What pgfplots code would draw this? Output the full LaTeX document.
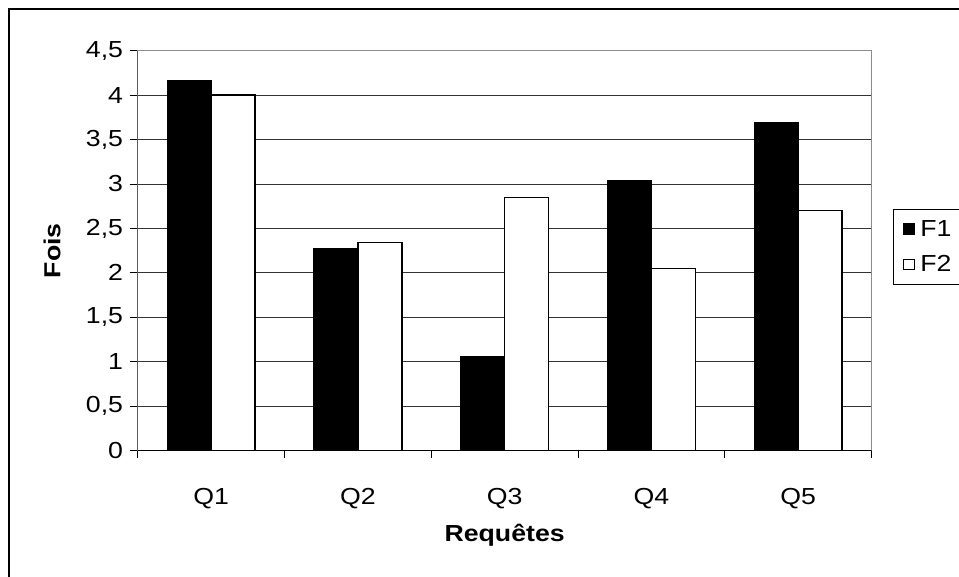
\documentclass[border=0pt]{standalone}
\usepackage{pgfplots}
\pgfplotsset{compat=1.18}
\usepackage{fontspec}
\setmainfont{Liberation Sans}[FakeStretch=1.15]
\newcommand{\chartfont}{\fontsize{17.4}{20}\selectfont}

% Durations per query for the two formulations
\pgfplotstableread{
x  f1    f2
0  4.17  4.00
1  2.28  2.34
2  1.06  2.85
3  3.045 2.05
4  3.69  2.70
}\fois

\begin{document}
\begin{tikzpicture}[x=0.75pt,y=0.75pt]
\useasboundingbox (0,0) rectangle (959,576);
\fill[white] (0,0) rectangle (959,576);
% outer chart frame
\draw[line width=1.5pt] (9,-5) -- (9,567) -- (975,567);
\begin{axis}[
  at={(103.3pt,94pt)}, anchor=south west,
  scale only axis, width=550.35pt, height=300pt,
  ybar=0pt, bar width=33pt,
  xmin=-0.5, xmax=4.5, ymin=0, ymax=4.5,
  xtick={0,1,2,3,4}, xticklabels={Q1,Q2,Q3,Q4,Q5},
  minor xtick={-0.5,0.5,1.5,2.5,3.5,4.5},
  ytick={0,0.5,1,1.5,2,2.5,3,3.5,4,4.5},
  tick align=outside, tick pos=left,
  major tick length=6pt, minor tick length=5.25pt,
  major x tick style={draw=none},
  minor x tick style={black, line width=0.75pt},
  ytick style={black, line width=0.75pt},
  ymajorgrids, major grid style={black!80, line width=0.75pt},
  axis line style={draw=black!45, line width=0.75pt},
  /pgf/number format/.cd, use comma, assume math mode=true,
  /pgfplots/.cd,
  every tick label/.append style={font=\chartfont, text=black},
  xticklabel style={anchor=base, yshift=-34pt},
  yticklabel style={xshift=-1.5pt},
  ylabel={Fois}, xlabel={Requêtes},
  ylabel style={at={(axis description cs:-0.1168,0.5)}, anchor=center, font=\chartfont\bfseries},
  xlabel style={at={(axis description cs:0.5,-0.2275)}, anchor=base, font=\chartfont\bfseries},
  legend style={at={(rel axis cs:1.0293,0.6043)}, anchor=north west,
    draw=black, line width=0.75pt, fill=white, font=\chartfont,
    inner xsep=7pt, inner ysep=6pt, row sep=9pt,
    /tikz/every odd column/.append style={column sep=2.5pt}},
  legend cell align=left,
  legend image code/.code={\draw[#1, line width=0.6pt] (0pt,-4pt) rectangle (8pt,4pt);},
]
\addplot[fill=black, draw=black, line width=0.75pt] table[x=x, y=f1] {\fois};
\addplot[fill=white, draw=black, line width=1pt] table[x=x, y=f2] {\fois};
\legend{F1, F2}
\draw[black, line width=0.75pt] (rel axis cs:0,1) -- (rel axis cs:0,0) -- (rel axis cs:1,0);
\end{axis}
\end{tikzpicture}
\end{document}
